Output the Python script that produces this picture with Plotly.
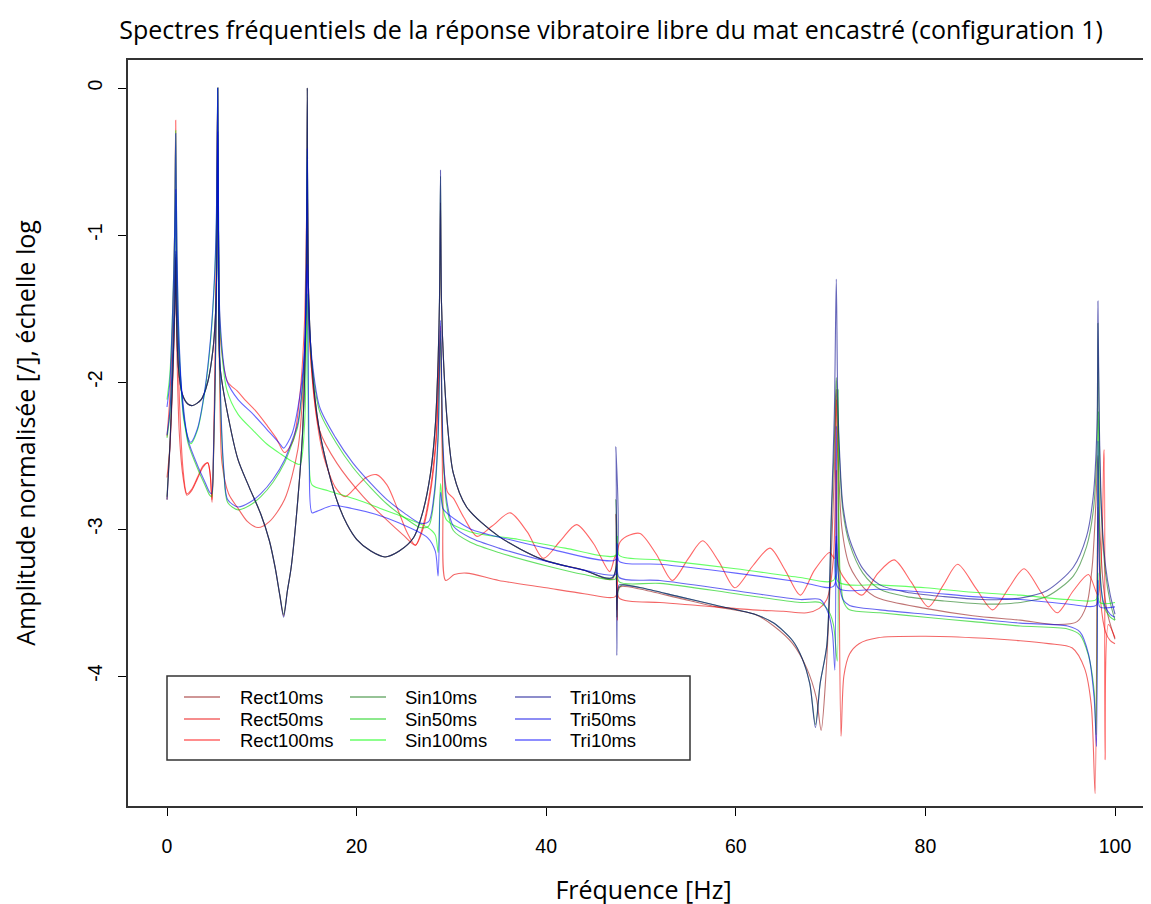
import plotly.graph_objects as go

# ---- data: [frequency Hz, log10 normalised amplitude] ----
RECT10 = [[0.0,-2.80],[0.3,-2.45],[0.55,-2.05],[0.75,-1.65],[0.85,-1.40],[0.92,-1.15],[1.0,-1.55],[1.2,-1.90],[1.6,-2.08],[2.2,-2.15],[2.7,-2.16],[3.6,-2.12],[4.3,-2.00],[4.85,-1.78],[5.1,-1.56],[5.25,-1.22],[5.35,-0.35],[5.45,-1.15],[5.6,-1.90],[6.5,-2.25],[7.5,-2.53],[8.7,-2.72],[9.9,-2.90],[10.8,-3.08],[11.4,-3.26],[11.9,-3.45],[12.3,-3.59],[12.7,-3.42],[13.1,-3.26],[13.8,-2.80],[14.3,-2.35],[14.6,-1.75],[14.72,-1.22],[14.8,0.0],[14.9,-1.30],[15.3,-1.90],[16,-2.30],[17,-2.60],[18,-2.82],[19,-2.97],[20,-3.07],[21.5,-3.15],[23,-3.19],[24.5,-3.15],[26,-3.06],[27,-2.88],[27.8,-2.62],[28.3,-2.30],[28.6,-1.85],[28.75,-1.45],[28.85,-0.78],[28.95,-1.45],[29.2,-1.90],[29.6,-2.30],[30.2,-2.62],[31.6,-2.85],[35,-3.05],[39.7,-3.21],[44,-3.28],[47,-3.34],[47.35,-2.90],[47.45,-3.55],[47.6,-3.40],[48,-3.39],[50,-3.41],[54,-3.47],[58,-3.53],[62,-3.58],[64,-3.66],[66,-3.78],[67.5,-3.95],[68.5,-4.15],[69.0,-4.37],[69.5,-4.00],[70.0,-3.30],[70.4,-2.60],[70.6,-2.05],[70.8,-2.50],[71.2,-3.00],[72,-3.25],[73.5,-3.40],[75,-3.47],[80,-3.54],[85,-3.59],[90,-3.62],[94,-3.65],[96,-3.63],[97,-3.52],[97.6,-3.25],[98.0,-2.80],[98.2,-2.50],[98.4,-3.00],[98.8,-3.40],[99.3,-3.60],[100,-3.75]]

RECT50 = [[0.0,-2.65],[0.3,-2.45],[0.6,-2.00],[0.8,-1.60],[0.92,-1.17],[1.05,-1.80],[1.3,-2.35],[1.7,-2.65],[2.1,-2.77],[2.6,-2.74],[3.2,-2.66],[3.8,-2.58],[4.3,-2.55],[4.55,-2.62],[4.75,-2.82],[4.95,-2.40],[5.15,-1.60],[5.35,0.0],[5.45,-1.50],[5.6,-2.20],[5.8,-2.55],[6.5,-2.76],[7.5,-2.86],[8.5,-2.95],[9.6,-2.99],[10.8,-2.95],[12.4,-2.80],[13.8,-2.46],[14.4,-2.00],[14.65,-1.60],[14.8,-0.99],[14.95,-1.60],[15.3,-1.95],[16.1,-2.33],[17.9,-2.55],[20.7,-2.78],[23.2,-2.94],[24.9,-3.04],[26.2,-3.11],[27.0,-3.00],[27.8,-2.75],[28.4,-2.40],[28.85,-1.70],[29.1,-2.80],[29.4,-3.35],[30.3,-3.31],[31.6,-3.30],[35,-3.35],[40,-3.40],[44,-3.44],[47.3,-3.46],[47.5,-3.30],[47.7,-3.47],[52,-3.50],[56,-3.52],[61.8,-3.55],[65,-3.56],[67.5,-3.57],[68.8,-3.54],[69.6,-3.48],[70.3,-3.20],[70.6,-2.12],[70.85,-3.00],[71.1,-4.41],[71.4,-4.00],[72,-3.85],[73,-3.78],[75,-3.74],[80,-3.73],[85,-3.74],[90,-3.76],[93,-3.78],[95.5,-3.81],[96.8,-3.95],[97.5,-4.20],[97.9,-4.80],[98.2,-2.85],[98.5,-3.50],[99.0,-3.70],[99.5,-3.76],[100,-3.78]]

RECT100 = [[0.0,-2.37],[0.3,-2.10],[0.6,-1.60],[0.8,-1.00],[0.92,-0.22],[1.05,-1.30],[1.3,-2.10],[1.7,-2.60],[2.1,-2.76],[2.6,-2.73],[3.2,-2.65],[3.8,-2.57],[4.3,-2.55],[4.55,-2.63],[4.75,-2.80],[4.95,-2.30],[5.15,-1.50],[5.35,0.0],[5.45,-1.20],[5.7,-1.75],[6.4,-2.00],[7.4,-2.06],[8.2,-2.12],[9.4,-2.20],[10.6,-2.30],[11.5,-2.38],[12.4,-2.48],[13.3,-2.40],[14.0,-2.10],[14.5,-1.60],[14.8,-0.67],[15.0,-1.60],[15.5,-2.10],[16.5,-2.50],[17.8,-2.72],[18.8,-2.78],[20.0,-2.71],[21.0,-2.65],[22.1,-2.63],[23.2,-2.70],[24.3,-2.86],[25.3,-3.02],[26.2,-3.11],[27.0,-2.98],[27.8,-2.72],[28.4,-2.35],[28.85,-1.62],[29.1,-2.50],[29.6,-2.75],[30.2,-2.79],[31.3,-2.92],[32.7,-3.05],[34.3,-2.98],[36.2,-2.89],[38.0,-3.02],[39.7,-3.20],[41.5,-3.08],[43.2,-2.97],[45.0,-3.10],[46.7,-3.29],[47.3,-3.18],[47.5,-3.62],[47.7,-3.10],[48.5,-3.05],[49.9,-3.03],[51.6,-3.17],[53.3,-3.35],[55.0,-3.20],[56.5,-3.08],[58.2,-3.22],[59.9,-3.40],[61.8,-3.25],[63.6,-3.13],[65.2,-3.28],[66.8,-3.45],[68.3,-3.28],[69.9,-3.16],[70.4,-3.20],[70.6,-2.60],[70.8,-3.25],[71.6,-3.35],[73.3,-3.45],[75.0,-3.30],[76.7,-3.21],[78.5,-3.36],[80.3,-3.53],[81.9,-3.38],[83.4,-3.24],[85.3,-3.40],[87.1,-3.55],[88.8,-3.40],[90.4,-3.27],[92.2,-3.43],[93.9,-3.57],[95.6,-3.42],[97.2,-3.31],[98.2,-3.45],[98.85,-2.46],[98.95,-4.57],[99.3,-3.65],[100,-3.74]]

SIN10 = [[0.0,-2.78],[0.3,-2.43],[0.55,-2.03],[0.75,-1.64],[0.85,-1.40],[0.92,-1.13],[1.0,-1.55],[1.2,-1.90],[1.6,-2.08],[2.2,-2.15],[2.7,-2.16],[3.6,-2.12],[4.3,-2.00],[4.85,-1.78],[5.1,-1.56],[5.25,-1.22],[5.35,-0.32],[5.45,-1.15],[5.6,-1.90],[6.5,-2.25],[7.5,-2.53],[8.7,-2.72],[9.9,-2.90],[10.8,-3.08],[11.4,-3.26],[11.9,-3.45],[12.3,-3.58],[12.7,-3.42],[13.1,-3.26],[13.8,-2.80],[14.3,-2.35],[14.6,-1.75],[14.72,-1.22],[14.8,0.0],[14.9,-1.30],[15.3,-1.90],[16,-2.30],[17,-2.60],[18,-2.82],[19,-2.97],[20,-3.07],[21.5,-3.15],[23,-3.19],[24.5,-3.15],[26,-3.06],[27,-2.88],[27.8,-2.62],[28.3,-2.30],[28.6,-1.85],[28.75,-1.42],[28.85,-0.60],[28.95,-1.45],[29.2,-1.90],[29.6,-2.30],[30.2,-2.62],[31.6,-2.85],[35,-3.05],[39.7,-3.21],[44,-3.28],[47,-3.33],[47.35,-2.80],[47.45,-3.60],[47.6,-3.42],[48,-3.38],[50,-3.40],[54,-3.46],[58,-3.52],[62,-3.58],[64,-3.64],[66,-3.76],[67,-3.88],[67.8,-4.05],[68.4,-4.33],[68.9,-4.05],[69.6,-3.79],[70.1,-2.90],[70.4,-2.40],[70.6,-1.97],[70.75,-2.20],[71.0,-2.60],[71.3,-2.88],[72,-3.10],[73.4,-3.30],[75.2,-3.41],[78,-3.46],[82,-3.49],[86,-3.51],[88,-3.51],[90,-3.50],[92.8,-3.46],[95.6,-3.32],[97,-3.12],[97.7,-2.88],[98.1,-2.45],[98.2,-1.60],[98.35,-2.40],[98.6,-2.95],[99,-3.30],[99.5,-3.50],[100,-3.62]]

SIN50 = [[0.0,-2.38],[0.3,-2.22],[0.6,-1.82],[0.8,-1.35],[0.92,-0.72],[1.05,-1.45],[1.3,-1.88],[1.7,-2.18],[2.2,-2.41],[3.3,-2.60],[4.0,-2.70],[4.5,-2.77],[4.7,-2.78],[4.9,-2.52],[5.1,-1.95],[5.25,-1.25],[5.35,0.0],[5.45,-1.35],[5.7,-2.25],[6.0,-2.62],[6.4,-2.82],[7.5,-2.87],[8.7,-2.84],[9.9,-2.78],[11.2,-2.68],[12.4,-2.55],[13.3,-2.40],[13.8,-2.30],[14.3,-2.03],[14.6,-1.62],[14.8,-0.43],[14.95,-1.52],[15.3,-1.88],[16.1,-2.20],[17.8,-2.41],[19.6,-2.58],[21.5,-2.72],[23.2,-2.83],[25,-2.92],[26.7,-2.99],[27.6,-2.98],[28.2,-2.78],[28.6,-2.38],[28.85,-1.65],[29.1,-2.45],[29.5,-2.84],[30.2,-3.01],[32,-3.09],[35,-3.16],[40,-3.25],[44,-3.31],[47.3,-3.34],[47.5,-3.24],[47.7,-3.36],[52,-3.37],[60,-3.44],[66.8,-3.50],[68.9,-3.50],[69.8,-3.56],[70.3,-3.65],[70.7,-3.90],[70.8,-2.05],[71.0,-3.30],[71.4,-3.50],[72,-3.55],[75.2,-3.57],[80,-3.60],[85,-3.63],[90,-3.66],[95,-3.68],[96.3,-3.72],[97.2,-3.86],[97.8,-4.10],[98.0,-4.40],[98.25,-2.20],[98.45,-3.30],[98.8,-3.52],[99.5,-3.60],[100,-3.62]]

SIN100 = [[0.0,-2.12],[0.3,-1.95],[0.6,-1.50],[0.8,-1.00],[0.92,-0.29],[1.05,-1.15],[1.3,-1.78],[1.8,-2.27],[2.5,-2.42],[3.2,-2.33],[4.0,-2.06],[4.6,-1.72],[5.0,-1.32],[5.2,-0.95],[5.35,0.0],[5.45,-1.05],[5.6,-1.62],[6.3,-2.05],[7.5,-2.22],[9.1,-2.33],[10.5,-2.42],[12.0,-2.49],[13.2,-2.54],[14.0,-2.56],[14.5,-2.30],[14.8,-1.40],[15.0,-2.55],[15.3,-2.70],[17,-2.74],[20,-2.80],[22.5,-2.86],[25,-2.92],[27.5,-2.99],[28.3,-3.04],[28.6,-3.16],[28.85,-2.69],[29.1,-2.85],[29.5,-2.94],[32,-3.02],[37,-3.07],[42,-3.13],[47.3,-3.18],[47.5,-3.05],[47.7,-3.18],[52,-3.21],[60,-3.27],[66.8,-3.33],[70.3,-3.35],[70.6,-3.10],[70.8,-3.36],[75.2,-3.38],[80,-3.40],[85,-3.43],[90,-3.45],[95,-3.48],[98.0,-3.48],[98.2,-3.30],[98.4,-3.50],[100,-3.50]]

TRI10 = [[0.0,-2.80],[0.3,-2.45],[0.55,-2.05],[0.75,-1.65],[0.85,-1.40],[0.92,-1.11],[1.0,-1.55],[1.2,-1.90],[1.6,-2.08],[2.2,-2.15],[2.7,-2.16],[3.6,-2.12],[4.3,-2.00],[4.85,-1.78],[5.1,-1.56],[5.25,-1.20],[5.35,-0.30],[5.45,-1.15],[5.6,-1.90],[6.5,-2.25],[7.5,-2.53],[8.7,-2.72],[9.9,-2.90],[10.8,-3.08],[11.4,-3.26],[11.9,-3.45],[12.3,-3.60],[12.7,-3.42],[13.1,-3.26],[13.8,-2.80],[14.3,-2.35],[14.6,-1.75],[14.72,-1.20],[14.8,0.0],[14.9,-1.30],[15.3,-1.90],[16,-2.30],[17,-2.60],[18,-2.82],[19,-2.97],[20,-3.07],[21.5,-3.15],[23,-3.19],[24.5,-3.15],[26,-3.06],[27,-2.88],[27.8,-2.62],[28.3,-2.30],[28.6,-1.85],[28.75,-1.40],[28.85,-0.56],[28.95,-1.45],[29.2,-1.90],[29.6,-2.30],[30.2,-2.62],[31.6,-2.85],[35,-3.05],[39.7,-3.21],[44,-3.28],[47,-3.33],[47.35,-2.44],[47.45,-3.86],[47.55,-3.42],[47.7,-3.38],[48,-3.38],[50,-3.40],[54,-3.46],[58,-3.52],[62,-3.58],[64,-3.64],[66,-3.76],[67,-3.88],[67.8,-4.05],[68.4,-4.35],[68.9,-4.05],[69.6,-3.79],[70.1,-2.84],[70.4,-2.20],[70.6,-1.30],[70.75,-2.10],[71.0,-2.55],[71.3,-2.84],[72,-3.07],[73.4,-3.27],[75.2,-3.38],[78,-3.43],[82,-3.46],[86,-3.48],[88,-3.48],[90,-3.47],[92.8,-3.42],[95.6,-3.26],[97,-3.05],[97.7,-2.78],[98.1,-2.30],[98.2,-1.45],[98.35,-2.30],[98.6,-2.90],[99,-3.25],[99.5,-3.45],[100,-3.58]]

TRI50 = [[0.0,-2.36],[0.3,-2.20],[0.6,-1.80],[0.8,-1.30],[0.92,-0.69],[1.05,-1.40],[1.3,-1.85],[1.7,-2.15],[2.2,-2.39],[3.3,-2.58],[4.0,-2.68],[4.5,-2.75],[4.7,-2.76],[4.9,-2.50],[5.1,-1.90],[5.25,-1.20],[5.35,0.0],[5.45,-1.30],[5.7,-2.20],[6.0,-2.60],[6.4,-2.80],[7.5,-2.85],[8.7,-2.82],[9.9,-2.76],[11.2,-2.66],[12.4,-2.53],[13.3,-2.38],[13.8,-2.28],[14.3,-2.00],[14.6,-1.60],[14.8,-0.41],[14.95,-1.50],[15.3,-1.85],[16.1,-2.17],[17.8,-2.38],[19.6,-2.55],[21.5,-2.69],[23.2,-2.80],[25,-2.89],[26.7,-2.96],[27.6,-2.95],[28.2,-2.75],[28.6,-2.35],[28.85,-1.58],[29.1,-2.40],[29.5,-2.80],[30.2,-2.98],[32,-3.06],[35,-3.13],[40,-3.22],[44,-3.28],[47.3,-3.31],[47.5,-3.20],[47.7,-3.33],[52,-3.35],[60,-3.42],[66.8,-3.48],[68.9,-3.48],[69.8,-3.58],[70.2,-3.71],[70.45,-3.96],[70.6,-2.30],[70.8,-3.30],[71.3,-3.48],[72,-3.52],[75.2,-3.55],[80,-3.58],[85,-3.61],[90,-3.64],[95,-3.66],[96.3,-3.70],[97.2,-3.85],[97.8,-4.15],[98.05,-4.48],[98.2,-2.40],[98.4,-3.30],[98.8,-3.50],[99.5,-3.58],[100,-3.60]]

TRI100 = [[0.0,-2.17],[0.3,-2.00],[0.6,-1.50],[0.8,-1.00],[0.92,-0.31],[1.05,-1.10],[1.3,-1.75],[1.8,-2.25],[2.5,-2.41],[3.2,-2.32],[4.0,-2.05],[4.6,-1.70],[5.0,-1.30],[5.2,-0.90],[5.35,0.0],[5.45,-1.00],[5.6,-1.58],[6.3,-1.99],[7.5,-2.12],[9.1,-2.22],[10.5,-2.32],[11.9,-2.42],[12.3,-2.45],[13.2,-2.35],[14.0,-2.10],[14.5,-1.80],[14.8,-1.20],[15.0,-2.50],[15.3,-2.89],[15.8,-2.88],[17.5,-2.84],[19.5,-2.86],[22,-2.90],[24.5,-2.96],[27.5,-3.06],[28.3,-3.15],[28.6,-3.32],[28.85,-2.75],[29.1,-2.86],[29.5,-2.89],[32,-3.00],[36,-3.07],[40,-3.13],[47.3,-3.21],[47.5,-3.10],[47.7,-3.22],[52,-3.24],[60,-3.30],[66.8,-3.36],[70.3,-3.39],[70.6,-3.05],[70.8,-3.40],[75.2,-3.41],[80,-3.43],[85,-3.46],[90,-3.48],[95,-3.51],[98.0,-3.52],[98.2,-3.35],[98.4,-3.53],[100,-3.53]]

SERIES = [
    ("Rect10ms", RECT10, "rgba(139,0,0,0.55)"),
    ("Rect50ms", RECT50, "rgba(235,0,0,0.6)"),
    ("Rect100ms", RECT100, "rgba(255,0,0,0.6)"),
    ("Sin10ms", SIN10, "rgba(0,110,0,0.55)"),
    ("Sin50ms", SIN50, "rgba(0,205,0,0.6)"),
    ("Sin100ms", SIN100, "rgba(0,255,0,0.6)"),
    ("Tri10ms", TRI10, "rgba(0,0,139,0.6)"),
    ("Tri50ms", TRI50, "rgba(0,0,230,0.6)"),
    ("Tri10ms", TRI100, "rgba(0,0,255,0.6)"),
]

X_TICKS = [0, 20, 40, 60, 80, 100]
Y_TICKS = [0, -1, -2, -3, -4]
Y_TICKTEXT = ["0", "-1", "-2", "-3", "-4"]

fig = go.Figure()
for name, pts, col in SERIES:
    fig.add_trace(go.Scatter(
        x=[p[0] for p in pts], y=[p[1] for p in pts], mode="lines", name=name,
        line=dict(color=col, width=1.1, shape="spline", smoothing=0.8), showlegend=False))

# the page body adds an 8px offset, so figure coords = screen coords - 8
OFF = 8
W, H = 1151, 904
L, R, T, B = 128 - OFF, 0, 60 - OFF, H - (806 - OFF)
pw, ph = W - L - R, H - T - B
X0PX, XSCALE = 167 - OFF, 9.48      # screen x of 0 Hz, px per Hz
Y0PX, YSCALE = 88 - OFF, 147.0      # screen y of 0, px per decade

def px(xp):
    return (xp - OFF - L) / pw

def py(yp):
    return (H - B - (yp - OFF)) / ph

# legend box drawn R-style: 3 columns x 3 rows
LEG_COL_SAMPLE = [184, 350, 515]
LEG_COL_TEXT = [238, 403, 568]
LEG_ROW_Y = [697, 719, 740]
shapes = [dict(type="rect", xref="paper", yref="paper",
               x0=px(167), x1=px(690), y0=py(760), y1=py(676),
               line=dict(color="#333333", width=1.5), layer="below")]
annotations = []
for i, (name, pts, col) in enumerate(SERIES):
    c, r = i // 3, i % 3
    shapes.append(dict(type="line", xref="paper", yref="paper",
                       x0=px(LEG_COL_SAMPLE[c]), x1=px(LEG_COL_SAMPLE[c] + 36),
                       y0=py(LEG_ROW_Y[r]), y1=py(LEG_ROW_Y[r]),
                       line=dict(color=col, width=1.5)))
    annotations.append(dict(xref="paper", yref="paper", x=px(LEG_COL_TEXT[c]), y=py(LEG_ROW_Y[r]),
                            text=name, showarrow=False, xanchor="left", yanchor="middle",
                            font=dict(family="Liberation Sans, Arial, sans-serif", size=18.5, color="black")))

fig.update_layout(
    width=W, height=H,
    margin=dict(l=L, r=R, t=T, b=B),
    paper_bgcolor="white", plot_bgcolor="white",
    title=dict(text="Spectres fréquentiels de la réponse vibratoire libre du mat encastré (configuration 1)",
               x=((117 + 1105) / 2 - OFF) / W, xanchor="center", y=1 - (30 - OFF) / H, yanchor="middle",
               font=dict(family="Open Sans, sans-serif", size=25, color="black")),
    shapes=shapes, annotations=annotations,
    xaxis=dict(range=[(L - X0PX) / XSCALE, (W - X0PX) / XSCALE], tickvals=X_TICKS,
               ticks="outside", ticklen=8, tickcolor="black", showgrid=False, zeroline=False,
               showline=True, linecolor="#333333", linewidth=1.5, mirror=True, automargin=False,
               ticklabelstandoff=14,
               tickfont=dict(family="Liberation Sans, Arial, sans-serif", size=19.5, color="black"),
               title=dict(text="Fréquence [Hz]", standoff=25,
                          font=dict(family="Open Sans, sans-serif", size=25, color="black"))),
    yaxis=dict(range=[(Y0PX - (H - B)) / YSCALE, (Y0PX - T) / YSCALE], tickvals=Y_TICKS, ticktext=Y_TICKTEXT,
               tickangle=-90, ticks="outside", ticklen=8, tickcolor="black",
               showgrid=False, zeroline=False, showline=True, linecolor="#333333", linewidth=1.5,
               automargin=False, ticklabelstandoff=8,
               tickfont=dict(family="Liberation Sans, Arial, sans-serif", size=19.5, color="black"),
               title=dict(text="Amplitude normalisée [/], échelle log", standoff=52,
                          font=dict(family="Open Sans, sans-serif", size=25, color="black"))),
)

fig.write_html("out.html")
